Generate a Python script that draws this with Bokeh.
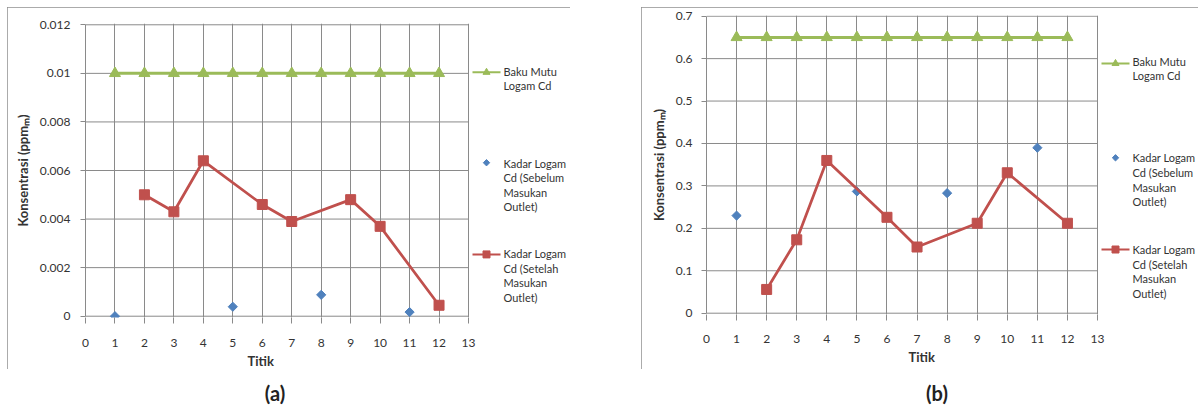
import numpy as np
from bokeh.plotting import figure
from bokeh.layouts import row, column
from bokeh.models import Range1d, FixedTicker, CustomJSTickFormatter, Title, Div
from bokeh.core.properties import value
from bokeh.embed import file_html
from bokeh.resources import INLINE

# ---------------- data ----------------
x_ticks = [0, 1, 2, 3, 4, 5, 6, 7, 8, 9, 10, 11, 12, 13]
baku_x = [1, 2, 3, 4, 5, 6, 7, 8, 9, 10, 11, 12]
sebelum_x = [1, 5, 8, 11]
setelah_x = [2, 3, 4, 6, 7, 9, 10, 12]

# chart (a)
a_baku_y = [0.01, 0.01, 0.01, 0.01, 0.01, 0.01, 0.01, 0.01, 0.01, 0.01, 0.01, 0.01]
a_sebelum_y = [0.0, 0.00039, 0.00088, 0.00017]
a_setelah_y = [0.0050, 0.0043, 0.0064, 0.0046, 0.0039, 0.0048, 0.0037, 0.00045]
a_y_ticks = [0, 0.002, 0.004, 0.006, 0.008, 0.01, 0.012]

# chart (b)
b_baku_y = [0.65, 0.65, 0.65, 0.65, 0.65, 0.65, 0.65, 0.65, 0.65, 0.65, 0.65, 0.65]
b_sebelum_y = [0.23, 0.287, 0.283, 0.39]
b_setelah_y = [0.056, 0.173, 0.36, 0.226, 0.156, 0.212, 0.331, 0.212]
b_y_ticks = [0, 0.1, 0.2, 0.3, 0.4, 0.5, 0.6, 0.7]

series_names = [
    "Baku Mutu\nLogam Cd",
    "Kadar Logam\nCd (Sebelum\nMasukan\nOutlet)",
    "Kadar Logam\nCd (Setelah\nMasukan\nOutlet)",
]
x_title = "Titik"
y_title = "Konsentrasi (ppm\u2098)"
panel_tags = ["(a)", "(b)"]

# ---------------- style ----------------
GREEN = "#9BBB59"
BLUE = "#4F81BD"
RED = "#C0504D"
GRID = "#8a8a8a"
BOX = "#8f8f8f"
TXT = "#333333"
FONT = "Lato"
FIG_H = 362
TITLE_W = 26


def build(fig_w, page_left, page_top, x0c, x13c, y0c, ytopc, ymax, fr, ft, fb,
          y_ticks, baku_y, sebelum_y, setelah_y,
          leg_sw_x, leg_txt_x, leg_rows, leg_sw_y, xtitle_x,
          ytick_standoff, xtick_standoff, title_standoff, margin):
    ppx = (x13c - x0c) / 13.0
    ppy = (y0c - ytopc) / ymax
    x_end = (fr - x0c) / ppx
    y_start = -(fb - y0c) / ppy
    y_end = ymax + (ytopc - ft) / ppy

    def dx(page_x):
        return (page_x - page_left - x0c) / ppx

    def dy(page_y):
        return (y0c - (page_y - page_top)) / ppy

    p = figure(width=fig_w, height=FIG_H, output_backend="svg", toolbar_location=None,
               x_range=Range1d(0, x_end), y_range=Range1d(y_start, y_end),
               margin=margin,
               styles={"outline": "1px solid " + BOX, "outline-offset": "-1px"})
    p.min_border_left = x0c
    p.min_border_right = fig_w - fr
    p.min_border_top = ft
    p.min_border_bottom = FIG_H - fb
    p.outline_line_color = None
    p.background_fill_color = "white"
    p.border_fill_color = "white"

    # axes
    p.xaxis.ticker = FixedTicker(ticks=x_ticks)
    p.xaxis.axis_line_color = None
    p.xaxis.major_tick_line_color = GRID
    p.xaxis.major_tick_out = 6
    p.xaxis.major_tick_in = 0
    p.xaxis.minor_tick_line_color = None
    p.xaxis.major_label_text_font = FONT
    p.xaxis.major_label_text_font_size = "12px"
    p.xaxis.major_label_text_color = TXT
    p.xaxis.major_label_text_line_height = 1.0
    p.xaxis.major_label_standoff = xtick_standoff

    p.yaxis.ticker = FixedTicker(ticks=y_ticks)
    p.yaxis.formatter = CustomJSTickFormatter(code="return String(Math.round(tick*1e6)/1e6);")
    p.yaxis.bounds = (0, ymax)
    p.yaxis.axis_line_color = GRID
    p.yaxis.major_tick_line_color = GRID
    p.yaxis.major_tick_out = 5
    p.yaxis.major_tick_in = 0
    p.yaxis.minor_tick_line_color = None
    p.yaxis.major_label_text_font = FONT
    p.yaxis.major_label_text_font_size = "12px"
    p.yaxis.major_label_text_color = TXT
    p.yaxis.major_label_standoff = ytick_standoff
    p.yaxis.axis_label = y_title
    p.yaxis.axis_label_text_font = FONT
    p.yaxis.axis_label_text_font_style = "bold"
    p.yaxis.axis_label_text_font_size = "13px"
    p.yaxis.axis_label_text_color = TXT
    p.yaxis.axis_label_standoff = 6

    p.xgrid.ticker = FixedTicker(ticks=x_ticks)
    p.xgrid.grid_line_color = GRID
    p.ygrid.grid_line_color = None

    # horizontal gridlines only over the plot area
    p.segment(x0=[x_ticks[0]] * len(y_ticks), x1=[x_ticks[-1]] * len(y_ticks),
              y0=y_ticks, y1=y_ticks, line_color=GRID, line_width=1)

    # series
    p.line(baku_x, baku_y, line_color=GREEN, line_width=3)
    p.scatter(baku_x, baku_y, marker="triangle", size=11, fill_color=GREEN, line_color=GREEN)
    p.scatter(sebelum_x, sebelum_y, marker="square", angle=np.pi / 4, size=6.5,
              fill_color=BLUE, line_color=BLUE)
    p.line(setelah_x, setelah_y, line_color=RED, line_width=2.75)
    p.scatter(setelah_x, setelah_y, marker="square", size=10, fill_color=RED, line_color=RED)

    # legend swatches
    sx0, sx1 = dx(leg_sw_x[0]), dx(leg_sw_x[1])
    sxm = (sx0 + sx1) / 2
    p.line([sx0, sx1], [dy(leg_sw_y[0])] * 2, line_color=GREEN, line_width=2)
    p.scatter([sxm], [dy(leg_sw_y[0])], marker="triangle", size=7, fill_color=GREEN, line_color=GREEN)
    p.scatter([sxm], [dy(leg_sw_y[1])], marker="square", angle=np.pi / 4, size=4.5,
              fill_color=BLUE, line_color=BLUE)
    p.line([sx0, sx1], [dy(leg_sw_y[2])] * 2, line_color=RED, line_width=2)
    p.scatter([sxm], [dy(leg_sw_y[2])], marker="square", size=7, fill_color=RED, line_color=RED)

    # legend text
    tx, ty, tt = [], [], []
    for name, y0 in zip(series_names, leg_rows):
        for i, ln in enumerate(name.split("\n")):
            tx.append(dx(leg_txt_x))
            ty.append(dy(y0 + i * 14.6))
            tt.append(ln)
    p.text(x=tx, y=ty, text=tt, text_font=value(FONT), text_font_size="11px",
           text_color=TXT, text_baseline="middle", text_align="left")

    # x axis title (placed off-centre like the reference)
    p.add_layout(Title(text=x_title, align="left",
                       offset=(xtitle_x - page_left) - TITLE_W / 2.0 - x0c,
                       text_font=FONT, text_font_style="bold", text_font_size="13px",
                       text_color=TXT, text_line_height=1.0, standoff=title_standoff), "below")
    return p


def tag_div(text, center_x, col_left):
    w = 100
    return Div(text=text, width=w, height=24,
               margin=(12, 0, 0, int(round(center_x - col_left - w / 2))),
               styles={"font-family": FONT, "font-weight": "bold", "font-size": "20px",
                       "line-height": "24px", "text-align": "center", "color": "#222222"})


# chart (a): box occupies page x 7..570, y 7..369
pa = build(fig_w=563, page_left=7, page_top=7, x0c=78, x13c=461, y0c=309.7, ytopc=17.3,
           ymax=0.012, fr=561, ft=16, fb=311, y_ticks=a_y_ticks,
           baku_y=a_baku_y, sebelum_y=a_sebelum_y, setelah_y=a_setelah_y,
           leg_sw_x=(472, 500), leg_txt_x=503, leg_rows=(70.7, 163.3, 254.0),
           leg_sw_y=(72.0, 162.7, 254.7), xtitle_x=260,
           ytick_standoff=10, xtick_standoff=15, title_standoff=2, margin=(7, 0, 0, 7))

# chart (b): box occupies page x 641..1198, y 7..369
pb = build(fig_w=557, page_left=641, page_top=7, x0c=65, x13c=456, y0c=305.7, ytopc=8.7,
           ymax=0.7, fr=555, ft=8, fb=307, y_ticks=b_y_ticks,
           baku_y=b_baku_y, sebelum_y=b_sebelum_y, setelah_y=b_setelah_y,
           leg_sw_x=(1101, 1129), leg_txt_x=1132, leg_rows=(60.7, 157.3, 249.0),
           leg_sw_y=(63.0, 157.3, 249.0), xtitle_x=921,
           ytick_standoff=9, xtick_standoff=14, title_standoff=2, margin=(7, 0, 0, 71))

col_a = column(pa, tag_div(panel_tags[0], 275, 0))
col_b = column(pb, tag_div(panel_tags[1], 937, 570))
layout = row(col_a, col_b)
open("out.html", "w").write(file_html(layout, INLINE))
